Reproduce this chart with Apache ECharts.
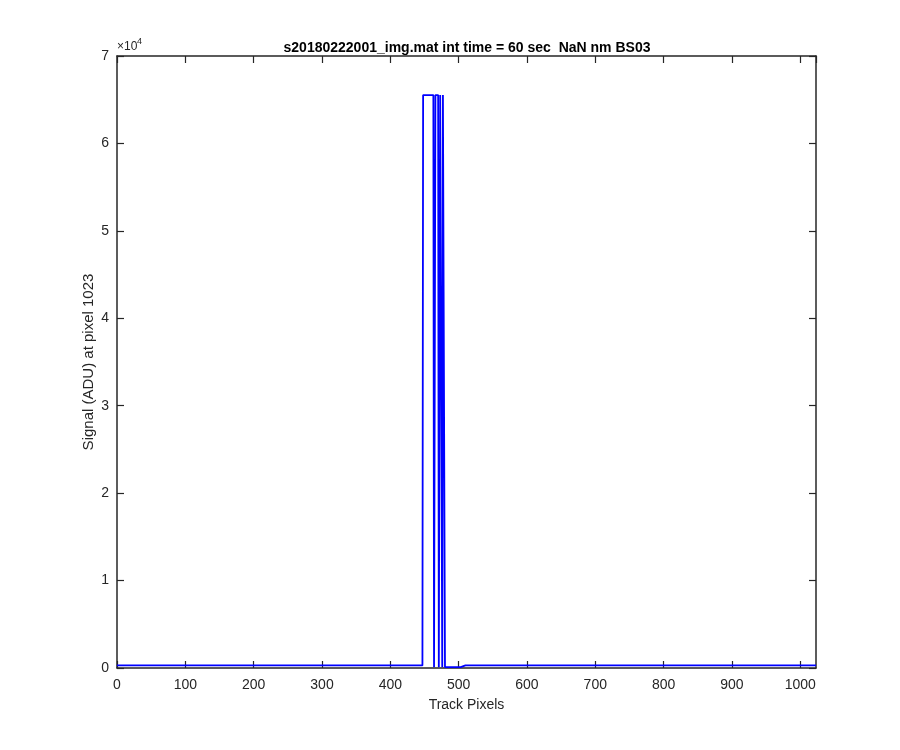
<!DOCTYPE html>
<html>
<head>
<meta charset="utf-8">
<script src="https://cdn.jsdelivr.net/npm/echarts@6/dist/echarts.min.js"></script>
<style>html,body{margin:0;padding:0;background:#fff;}#c{width:900px;height:750px;}</style>
</head>
<body>
<div id="c"></div>
<script>
// Track pixel positions (x) and signal in ADU (y)
var trackPixels = [0, 50, 100, 150, 200, 250, 300, 350, 400, 447,
  448, 463, 464, 465, 466, 470, 471, 472, 473, 475, 476, 477, 479, 480,
  490, 503, 503, 510, 525, 550, 600, 650, 700, 750, 800, 850, 900, 950, 1000, 1023];
var signal = [300, 310, 300, 305, 300, 310, 300, 305, 300, 300,
  65535, 65535, 100, 100, 65535, 65535, 100, 100, 65535, 65535, 100, 65535, 65535, 100,
  100, 100, 300, 300, 305, 310, 300, 305, 300, 310, 300, 305, 300, 310, 300, 300];
var xTicks = [0, 100, 200, 300, 400, 500, 600, 700, 800, 900, 1000];
var yTickLabels = ['0', '1', '2', '3', '4', '5', '6', '7'];
var titleText = 's20180222001_img.mat int time = 60 sec  NaN nm BS03';

var pts = trackPixels.map(function (x, i) { return [x, signal[i]]; });
var axisColor = '#262626';
var font = 'Liberation Sans, Arial, sans-serif';

var chart = echarts.init(document.getElementById('c'), null, {renderer: 'canvas'});
var baseX = {
  type: 'value', min: 0, max: 1023, interval: 100,
  axisLine: {show: true, onZero: false, lineStyle: {color: axisColor, width: 1.5}},
  axisTick: {show: true, inside: true, length: 7, lineStyle: {color: axisColor, width: 1.2}},
  splitLine: {show: false}
};
var baseY = {
  type: 'value', min: 0, max: 70000, interval: 10000,
  axisLine: {show: true, onZero: false, lineStyle: {color: axisColor, width: 1.5}},
  axisTick: {show: true, inside: true, length: 7, lineStyle: {color: axisColor, width: 1.2}},
  splitLine: {show: false}
};
chart.setOption({
  animation: false,
  backgroundColor: '#ffffff',
  title: {
    text: titleText, left: 462, top: 36, textAlign: 'center',
    textStyle: {fontFamily: font, fontSize: 14, fontWeight: 'bold', color: '#000'}
  },
  grid: {left: 117, right: 84, top: 56, bottom: 82, containLabel: false},
  xAxis: [
    Object.assign({}, baseX, {
      position: 'bottom',
      name: 'Track Pixels', nameLocation: 'middle', nameGap: 30, nameMoveOverlap: false,
      nameTextStyle: {fontFamily: font, fontSize: 14, color: axisColor},
      axisLabel: {show: true, fontFamily: font, fontSize: 14, color: axisColor, margin: 10, showMaxLabel: false,
        formatter: function (v) { return xTicks.indexOf(v) >= 0 ? String(v) : ''; }}
    }),
    Object.assign({}, baseX, {position: 'top', axisLabel: {show: false}})
  ],
  yAxis: [
    Object.assign({}, baseY, {
      position: 'left',
      name: 'Signal (ADU) at pixel 1023', nameLocation: 'middle', nameGap: 21, nameMoveOverlap: false,
      nameTextStyle: {fontFamily: font, fontSize: 15, color: axisColor},
      axisLabel: {show: true, fontFamily: font, fontSize: 14, color: axisColor, margin: 8,
        formatter: function (v) { return yTickLabels[Math.round(v / 10000)]; }}
    }),
    Object.assign({}, baseY, {position: 'right', axisLabel: {show: false}})
  ],
  graphic: [
    {type: 'text', left: 117, top: 41,
      style: {text: '×10', fontFamily: font, fontSize: 12, fill: axisColor}},
    {type: 'text', left: 137, top: 37,
      style: {text: '4', fontFamily: font, fontSize: 9, fill: axisColor}}
  ],
  series: [{
    type: 'line', data: pts, xAxisIndex: 0, yAxisIndex: 0,
    showSymbol: false, symbol: 'none',
    lineStyle: {color: '#0000ff', width: 1.8},
    clip: true
  }]
});
</script>
</body>
</html>
